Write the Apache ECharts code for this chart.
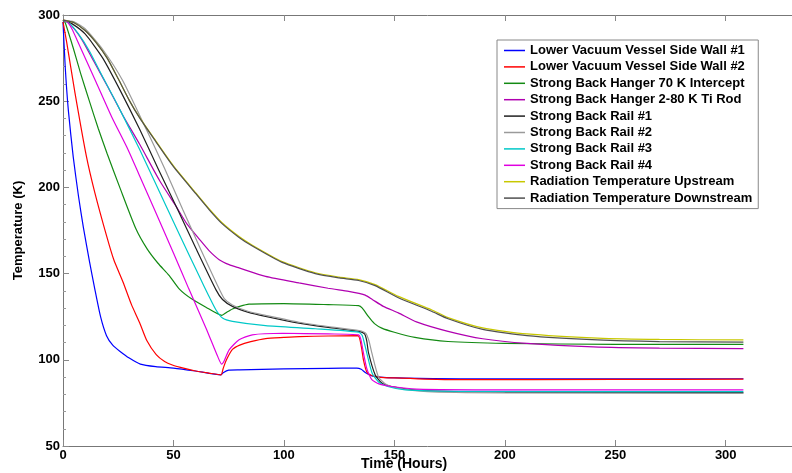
<!DOCTYPE html>
<html>
<head>
<meta charset="utf-8">
<script src="https://cdn.jsdelivr.net/npm/echarts@6/dist/echarts.min.js"></script>
<style>
html, body { margin: 0; padding: 0; background: #fff; }
#chart { width: 792px; height: 473px; }
</style>
</head>
<body>
<div id="chart"></div>
<script>
// ==========================================
// DATA  (time in hours, temperature in K)
// ==========================================
const seriesNames = [
  'Lower Vacuum Vessel Side Wall #1',
  'Lower Vacuum Vessel Side Wall #2',
  'Strong Back Hanger 70 K Intercept',
  'Strong Back Hanger 2-80 K Ti Rod',
  'Strong Back Rail #1',
  'Strong Back Rail #2',
  'Strong Back Rail #3',
  'Strong Back Rail #4',
  'Radiation Temperature Upstream',
  'Radiation Temperature Downstream'
];

const wall1 = [[0,296],[1,270],[2.4,245],[4.6,218],[7,195],[9.2,177],[12,157],[14.4,141],[17,125],[19.7,114],[22.5,108.5],[25.7,105],[30,101],[35,97.5],[42,96],[50,95.2],[60,93.5],[71.5,91.3],[72.5,92.5],[75,94],[80,94.2],[100,94.7],[120,95],[133,95.2],[135,94.5],[137,92.5],[139.8,90.7],[145,89.8],[155,89.4],[180,88.9],[250,89],[308,89]];
const wall2 = [[0,296],[1.7,284],[5.4,255],[10.6,218],[14.4,197],[19.7,172],[23,158],[27.2,145],[31,132],[34.7,121.5],[38,111],[42.2,103],[46,99],[49.5,97],[55,95],[60,93.5],[66,92.3],[71.5,91.3],[72.5,95],[74,100],[76.7,106],[80,108.5],[85,110.5],[91.7,112.3],[100,113],[107,113.5],[120,113.8],[133.5,114],[135,108],[136,100],[137.5,93],[139.5,91],[142.8,90],[150,89.5],[174,88.5],[250,88.6],[308,88.8]];
const hanger70 = [[0,297],[1,295.5],[4.6,281],[8,266],[12.2,249],[16,234],[20,219.5],[26,199],[33,176],[38,164.5],[43,156],[48,149],[52.7,141],[58,135.5],[64.7,130.5],[71.9,125.8],[74,127.5],[76.7,129.5],[80,131],[84.2,132.3],[100,132.6],[120,132],[133.8,131.4],[135.5,130],[138.3,125],[141,121],[144.3,118.4],[150,116],[159.3,113],[174.3,110.6],[200,109.5],[250,109],[308,109]];
const tiRod = [[0,297],[3,295],[8.4,286],[14,273],[20,259],[27,242],[34.7,225],[43.7,204],[51.2,189],[56,179],[61.7,170],[66,163.5],[70.7,158.1],[75.2,155.2],[79.7,153.3],[91.7,148.4],[106.8,144.6],[120,141.5],[129.3,139.7],[134,138.5],[136.8,137.5],[140,135],[145,131],[151.8,127.2],[160,122],[174.3,116.5],[190,112.2],[210,109.5],[240,107.5],[270,106.8],[308,106.5]];
const rail1 = [[0,297],[4,295],[10,289],[18,275],[26,256],[34.7,233.7],[43,211],[51.9,187.2],[60.2,164.5],[69.2,140.7],[72.2,135],[76.7,131],[84,127.5],[91.7,125.2],[106.8,121.3],[120,118.8],[134,116.5],[136.5,115],[137.5,111],[138.3,104],[141.3,91.3],[144.3,86.5],[148.8,84.5],[162.3,82.2],[200,81.3],[308,81]];
const rail2 = [[0,297],[5,296],[10,292],[18,280],[27,262],[37.7,233.7],[46,211],[54.2,187.2],[62,165],[70,143],[73,135.5],[76.7,131.8],[84,128],[91.7,125.8],[106.8,121.8],[120,119.3],[134,117],[137,115.5],[138.5,111],[139.8,104],[142.8,90],[146,86],[150,84],[165,81.5],[200,80.8],[308,80.5]];
const rail3 = [[0,297],[3,295],[7,289],[12,279],[18,264],[25,247],[34.7,222],[47.4,187.2],[52.7,172.7],[61.7,148.4],[66,137],[69.2,129],[72.2,124.2],[76.7,122.3],[91.7,119.8],[114.2,118],[133.8,116],[135.5,114],[137.5,104],[140,92],[143,87],[147,84.5],[155,82.5],[180,81.7],[308,81.5]];
const rail4 = [[0,297],[2,296],[4,292],[6.2,286],[15,261],[22,241],[29.4,222],[34.7,206.6],[41.4,187.2],[50,162],[57,141],[64.7,118.5],[70,102],[71.8,97.5],[73,99.5],[75.2,105.8],[79.7,111.6],[85.7,114.5],[99.2,115.4],[120,115],[133.8,114.5],[134.8,112],[136,104],[137.5,95],[139.8,88.5],[143,86],[148.8,84.5],[160,83],[200,82.6],[308,82.6]];
const upstream = [[0,297],[5,295.5],[10,291],[15,284],[20,275],[25,263],[30,250.5],[34.7,240.5],[42,227],[50,212.5],[60,197],[66.2,187.5],[72,179.5],[79.7,171.5],[85.7,166.5],[99.2,157],[114.2,150.5],[125,148],[133.8,146.5],[141.3,143.6],[151.8,136.8],[166.8,129],[174.3,124.5],[190,118.5],[210,115],[242,112.6],[270,111.8],[308,111.5]];
const downstream = [[0,297],[5,295.5],[10,291],[15,284],[20,275],[25,263],[30,250.5],[34.7,240.3],[42,226.6],[50,212],[60,196.5],[66.2,187],[72,179],[79.7,171],[85.7,166],[99.2,156.5],[114.2,150],[125,147.5],[133.8,146],[141.3,143],[151.8,136],[166.8,128.2],[174.3,123.8],[190,117.6],[210,114],[242,111.5],[270,110.6],[308,110.3]];

const seriesData = [wall1, wall2, hanger70, tiRod, rail1, rail2, rail3, rail4, upstream, downstream];
const seriesColors = ['#0000ff', '#ff0000', '#138a13', '#b000b0', '#202020', '#9a9a9a', '#00c8c8', '#e000e0', '#c8c800', '#505050'];

// ==========================================
// CHART
// ==========================================
const chart = echarts.init(document.getElementById('chart'), null, { renderer: 'canvas' });

const labelFont = { fontFamily: 'Liberation Sans, Arial, sans-serif', fontWeight: 'bold', fontSize: 13, color: '#000' };

const option = {
  backgroundColor: '#fff',
  animation: false,
  grid: { left: 63, top: 15, right: -4, bottom: 27 },
  legend: {
    orient: 'vertical',
    left: 497,
    top: 40,
    padding: [3, 6, 3, 7],
    icon: 'rect',
    itemGap: 1.4,
    itemWidth: 21,
    itemHeight: 1.5,
    backgroundColor: '#fff',
    borderColor: '#888',
    borderWidth: 1,
    borderRadius: 0,
    textStyle: Object.assign({}, labelFont, { fontSize: 13, lineHeight: 15 }),
    data: seriesNames
  },
  xAxis: [
    {
      type: 'value', min: 0, max: 330, interval: 50,
      splitLine: { show: false },
      axisLine: { onZero: false, lineStyle: { color: '#777', width: 1 } },
      axisTick: { inside: true, length: 6, lineStyle: { color: '#888' } },
      axisLabel: Object.assign({ margin: 3, showMaxLabel: false }, labelFont)
    },
    {
      type: 'value', position: 'top', min: 0, max: 330, interval: 50,
      splitLine: { show: false },
      axisLine: { onZero: false, lineStyle: { color: '#777', width: 1 } },
      axisTick: { inside: true, length: 6, lineStyle: { color: '#888' } },
      axisLabel: { show: false }
    }
  ],
  yAxis: {
    type: 'value', min: 50, max: 300, interval: 50,
    name: 'Temperature (K)',
    nameLocation: 'middle',
    nameGap: 38,
    nameTextStyle: labelFont,
    splitLine: { show: false },
    axisLine: { show: true, onZero: false, lineStyle: { color: '#777', width: 1 } },
    axisTick: { inside: true, length: 6, lineStyle: { color: '#888' } },
    minorTick: { show: true, splitNumber: 5, length: 3, lineStyle: { color: '#999' } },
    axisLabel: Object.assign({ margin: 3 }, labelFont)
  },
  graphic: [{
    type: 'text',
    left: 361,
    top: 457,
    style: { text: 'Time (Hours)', font: 'bold 14px "Liberation Sans", Arial, sans-serif', fill: '#000' }
  }],
  series: seriesNames.map((name, i) => ({
    name: name,
    type: 'line',
    xAxisIndex: 0,
    data: seriesData[i],
    symbol: 'none',
    smooth: 0.2,
    color: seriesColors[i],
    lineStyle: { width: 1.2, color: seriesColors[i] }
  }))
};

chart.setOption(option);
</script>
</body>
</html>
